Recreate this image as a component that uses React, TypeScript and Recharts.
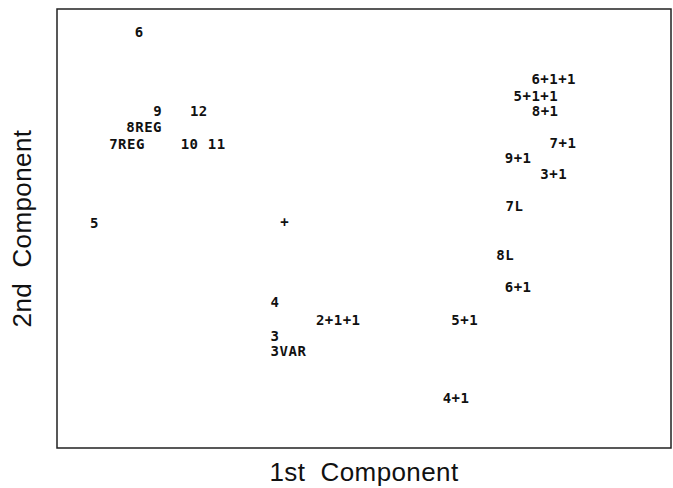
import { ScatterChart, Scatter, XAxis, YAxis, ReferenceArea } from 'recharts';

// model labels and their scores on the two components (0-100 frame)
const labels = [
  '6', '9', '12', '8REG', '7REG', '10', '11', '5', '+',
  '6+1+1', '5+1+1', '8+1', '7+1', '9+1', '3+1', '7L', '8L', '6+1',
  '4', '2+1+1', '5+1', '3', '3VAR', '4+1',
];
const comp1 = [
  13.4, 16.4, 23.1, 14.2, 11.4, 21.6, 26.0, 6.1, 37.1,
  80.9, 78.0, 79.5, 82.4, 75.1, 80.9, 74.5, 73.0, 75.1,
  35.5, 45.8, 66.4, 35.5, 37.7, 65.0,
];
const comp2 = [
  94.8, 76.8, 76.8, 73.1, 69.2, 69.2, 69.2, 51.3, 51.5,
  84.1, 80.2, 76.8, 69.5, 66.1, 62.4, 55.1, 44.0, 36.7,
  33.3, 29.2, 29.2, 25.5, 22.1, 11.4,
];

const points = labels.map((label, i) => ({ label, x: comp1[i], y: comp2[i] }));

const LabelMark = (props: any) => {
  const { cx, cy, payload } = props;
  return (
    <text
      x={cx}
      y={cy}
      dy="0.36em"
      textAnchor="middle"
      fontFamily="'DejaVu Sans Mono', monospace"
      fontWeight="bold"
      fontSize={14}
      letterSpacing={0.5}
      fill="#111"
    >
      {payload.label}
    </text>
  );
};

const axisFont = { fontFamily: "'Liberation Sans', Arial, sans-serif", fontSize: 26, fill: '#111', letterSpacing: 0.4 };

export default function App() {
  return (
    <div style={{ position: 'absolute', left: 0, top: 0, background: '#fff' }}>
      <ScatterChart width={673} height={488} margin={{ top: 9, right: 2, bottom: 0, left: 0 }}>
        <XAxis
          type="number"
          dataKey="x"
          domain={[0, 100]}
          height={40}
          tick={false}
          tickLine={false}
          axisLine={false}
          label={{ value: '1st\u00a0 Component', position: 'insideBottom', offset: 7, style: axisFont }}
        />
        <YAxis
          type="number"
          dataKey="y"
          domain={[0, 100]}
          width={57}
          tick={false}
          tickLine={false}
          axisLine={false}
          label={{ value: '2nd\u00a0 Component', angle: -90, position: 'insideLeft', offset: 22, style: { ...axisFont, textAnchor: 'middle' } }}
        />
        <ReferenceArea x1={0} x2={100} y1={0} y2={100} fill="none" stroke="#222" strokeWidth={1.5} />
        <Scatter data={points} shape={LabelMark} isAnimationActive={false} />
      </ScatterChart>
    </div>
  );
}
